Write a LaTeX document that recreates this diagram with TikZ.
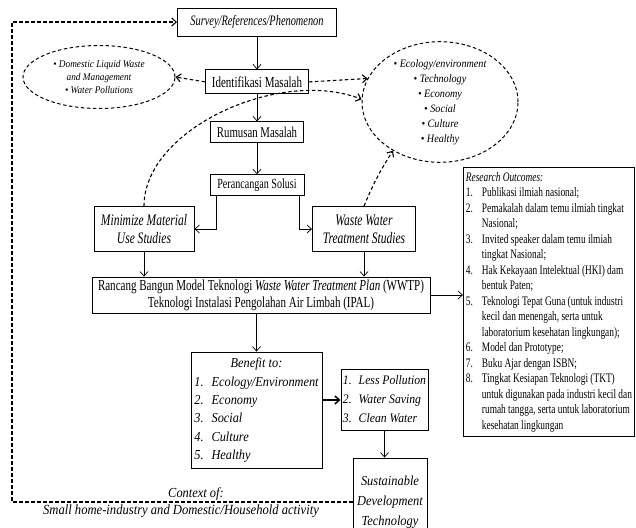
\documentclass[tikz,border=0pt]{standalone}
\usepackage{fontspec}
\setmainfont{Liberation Serif}[FakeStretch=0.72]
\newfontfamily\wideserif{Liberation Serif}[FakeStretch=0.9]
\usepackage{tikz}
\usetikzlibrary{arrows,arrows.meta,shapes,positioning,fit}

\tikzset{
  >={Straight Barb[length=4.5pt,width=8pt]},
  box/.style={rectangle, draw, line width=0.9pt, align=center, inner sep=2pt},
  cloud/.style={ellipse, draw, dash pattern=on 3.5pt off 2.5pt, line width=1pt, align=center, inner sep=0pt},
  link/.style={->, line width=0.7pt},
  dlink/.style={->, dash pattern=on 3.5pt off 2.5pt, line width=1.1pt}
}

\begin{document}
\begin{tikzpicture}[x=1pt,y=-1pt]
        \useasboundingbox (0,0) rectangle (636,527);
        % main column
        \node[box, minimum width=159pt, minimum height=28pt, font=\fontsize{14.4}{17}\selectfont\itshape] (Survey) at (257,22) {Survey/References/Phenomenon};
        \node[box, minimum width=103pt, minimum height=24pt, font=\fontsize{15.3}{18}\selectfont, below = 33pt of Survey] (Identifikasi) {Identifikasi Masalah};
        \node[box, minimum width=93pt, minimum height=21pt, font=\fontsize{15}{18}\selectfont, below = 27pt of Identifikasi] (Rumusan) {Rumusan Masalah};
        \node[box, minimum width=94pt, minimum height=21pt, font=\fontsize{14}{18}\selectfont, below = 31pt of Rumusan] (Perancangan) {Perancangan Solusi};
        % studies
        \node[box, minimum width=100pt, minimum height=45pt, font=\fontsize{16}{18}\selectfont\itshape] (Minimize) at (144,229) {Minimize Material\\ Use Studies};
        \node[box, minimum width=103pt, minimum height=45pt, font=\fontsize{16}{18}\selectfont\itshape] (Waste) at (364,229) {Waste Water\\ Treatment Studies};
        \node[box, minimum width=338pt, minimum height=36pt, font=\fontsize{15.3}{17}\selectfont] (Rancang) at (261,295) {Rancang Bangun Model Teknologi \textit{Waste Water Treatment Plan} (WWTP)\\ Teknologi Instalasi Pengolahan Air Limbah (IPAL)};
        % outcomes
        \node[box, anchor=north west, minimum width=171pt, minimum height=269pt, align=left, font=\fontsize{13}{15.5}\selectfont] (Outcomes) at (463,167) {\begin{tabular}{@{}l@{\hspace{9pt}}l@{}}
          \multicolumn{2}{@{}l}{\textit{Research Outcomes:}}\\
          1. & Publikasi ilmiah nasional;\\
          2. & Pemakalah dalam temu ilmiah tingkat\\
             & Nasional;\\
          3. & Invited speaker dalam temu ilmiah\\
             & tingkat Nasional;\\
          4. & Hak Kekayaan Intelektual (HKI) dam\\
             & bentuk Paten;\\
          5. & Teknologi Tepat Guna (untuk industri\\
             & kecil dan menengah, serta untuk\\
             & laboratorium kesehatan lingkungan);\\
          6. & Model dan Prototype;\\
          7. & Buku Ajar dengan ISBN;\\
          8. & Tingkat Kesiapan Teknologi (TKT)\\
             & untuk digunakan pada industri kecil dan\\
             & rumah tangga, serta untuk laboratorium\\
             & kesehatan lingkungan
        \end{tabular}};
        % benefits
        \node[box, minimum width=131pt, minimum height=116pt, font=\wideserif\fontsize{13.7}{18.3}\selectfont\itshape] (Benefit) at (256.5,410) {\begin{tabular}{@{}l@{\hspace{8pt}}l@{}}
          \multicolumn{2}{c}{Benefit to:}\\
          1. & Ecology/Environment\\
          2. & Economy\\
          3. & Social\\
          4. & Culture\\
          5. & Healthy
        \end{tabular}};
        \node[box, minimum width=87pt, minimum height=60pt, font=\wideserif\fontsize{13}{19}\selectfont\itshape] (Less) at (384.5,400) {\begin{tabular}{@{}l@{\hspace{7pt}}l@{}}
          1. & Less Pollution\\
          2. & Water Saving\\
          3. & Clean Water
        \end{tabular}};
        \node[box, minimum width=74pt, minimum height=88pt, font=\wideserif\fontsize{13.8}{20}\selectfont\itshape] (Sustainable) at (390,502) {Sustainable\\ Development\\ Technology};
        % clouds
        \node[cloud, minimum width=152pt, minimum height=63pt, font=\wideserif\fontsize{10.3}{13}\selectfont\itshape] (Domestic) at (99,77) {\textbullet\ Domestic Liquid Waste\\ and Management\\ \textbullet\ Water Pollutions};
        \node[cloud, minimum width=156pt, minimum height=110pt, font=\wideserif\fontsize{11.3}{15}\selectfont\itshape] (Aspects) at (440,102) {\textbullet\ Ecology/environment\\ \textbullet\ Technology\\ \textbullet\ Economy\\ \textbullet\ Social\\ \textbullet\ Culture\\ \textbullet\ Healthy};
        % context
        \node[font=\wideserif\fontsize{13.8}{15}\selectfont\itshape] (Context) at (196,494) {Context of:};
        \node[font=\wideserif\fontsize{14}{15}\selectfont\itshape] (Small) at (181,511) {Small home-industry and Domestic/Household activity};
        \coordinate (BottomLeft) at (12,502);
        \coordinate (TopLeft) at (12,22);

        \draw[link] (Survey) -- (Identifikasi);
        \draw[link] (Identifikasi) -- (Rumusan);
        \draw[link] (Rumusan) -- (Perancangan);
        \draw[link] ([xshift=7pt]Perancangan.south west) |- (Minimize);
        \draw[link] ([xshift=-5pt]Perancangan.south east) |- (Waste);
        \draw[link] (Minimize.south) -- (Minimize.south |- Rancang.north);
        \draw[link] (Waste.south) -- (Waste.south |- Rancang.north);
        \draw[link] (Rancang.east) -- (Rancang.east -| Outcomes.west);
        \draw[link] (Benefit.north |- Rancang.south) -- (Benefit.north);
        \draw[->, line width=1.5pt] (Less.west -| Benefit.east) -- (Less.west);
        \draw[link] (Less.south) -- (Less.south |- Sustainable.north);
        \draw[dlink] (Identifikasi.west) -- (Domestic.east);
        \draw[dlink] (Identifikasi.east) -- (Aspects.162);
        \draw[dlink] (Minimize.north) .. controls +(0,-77) and +(-82,-32) .. (Aspects.178);
        \draw[dlink] (Waste.north) to[bend left=5] (Aspects.226);
        \draw[dlink] (Sustainable.west) -- (BottomLeft) -- (TopLeft) -- (Survey.west);
\end{tikzpicture}
\end{document}
